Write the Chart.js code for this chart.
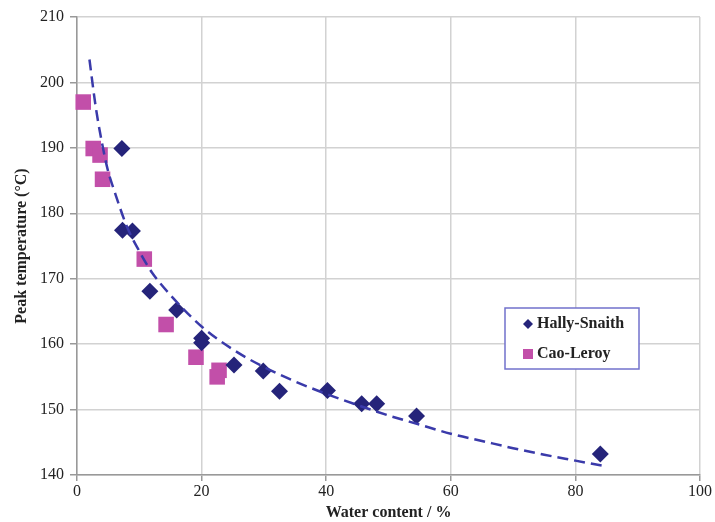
<!DOCTYPE html>
<html>
<head>
<meta charset="utf-8">
<script src="https://cdn.jsdelivr.net/npm/chart.js@4/dist/chart.umd.min.js"></script>
<style>
  html, body { margin: 0; padding: 0; background: #fff; }
  #wrap { width: 715px; height: 522px; }
</style>
</head>
<body>
<div id="wrap"><canvas id="graf"></canvas></div>
<script>
// Hally-Snaith (losangos)
const hallyX = [7.2, 7.3, 8.9, 11.7, 16.0, 20.0, 20.0, 25.2, 29.9, 32.5, 40.2, 45.7, 48.1, 54.5, 84.0];
const hallyY = [189.9, 177.4, 177.3, 168.1, 165.2, 160.9, 160.2, 156.8, 155.9, 152.8, 152.9, 150.9, 150.9, 149.0, 143.2];

// Cao-Leroy (quadrados)
const caoX = [1.0, 2.6, 3.7, 4.1, 10.8, 14.3, 19.1, 22.8, 22.5];
const caoY = [197.0, 189.9, 188.9, 185.2, 173.0, 163.0, 158.0, 156.0, 155.0];

// linha de tendência tracejada
const tendX = [2, 3, 4, 5, 6, 8, 10, 12, 15, 20, 25, 30, 35, 40, 45, 50, 55, 60, 65, 70, 75, 80, 85];
const tendY = [203.5, 196.3, 190.8, 186.4, 183.4, 178.0, 174.2, 171.0, 167.5, 162.7, 159.2, 156.5, 154.3, 152.4, 150.7, 149.1, 147.7, 146.3, 145.2, 144.1, 143.1, 142.2, 141.3];

const xTicks = [0, 20, 40, 60, 80, 100];
const yTicks = [140, 150, 160, 170, 180, 190, 200, 210];

const serie = (xs, ys) => xs.map((x, i) => ({ x: x, y: ys[i] }));

const corHally = '#25247a';
const corCao = '#c24fa9';
const corLinha = '#3a3aaa';
const fonte = "'Liberation Serif', 'Times New Roman', serif";

// legenda desenhada dentro da área do gráfico
const legendaBox = {
    id: 'legendaBox',
    afterDraw(chart) {
        const ctx = chart.ctx;
        ctx.save();
        ctx.fillStyle = '#fff';
        ctx.fillRect(505, 308, 134, 61);
        ctx.strokeStyle = '#7272cc';
        ctx.lineWidth = 1.5;
        ctx.strokeRect(505, 308, 134, 61);

        ctx.fillStyle = corHally;
        ctx.beginPath();
        ctx.moveTo(528, 319);
        ctx.lineTo(533, 324);
        ctx.lineTo(528, 329);
        ctx.lineTo(523, 324);
        ctx.closePath();
        ctx.fill();

        ctx.fillStyle = corCao;
        ctx.fillRect(523, 349, 10, 10);

        ctx.fillStyle = '#222';
        ctx.font = 'bold 16px ' + fonte;
        ctx.textBaseline = 'middle';
        ctx.fillText('Hally-Snaith', 537, 324);
        ctx.fillText('Cao-Leroy', 537, 354);
        ctx.restore();
    }
};

const ctxGraf = document.getElementById('graf').getContext('2d');
new Chart(ctxGraf, {
    type: 'scatter',
    data: {
        datasets: [{
            label: 'Hally-Snaith',
            data: serie(hallyX, hallyY),
            pointStyle: 'rectRot',
            pointRadius: 8.5,
            pointHoverRadius: 8.5,
            backgroundColor: corHally,
            borderColor: corHally,
            borderWidth: 0,
            order: 2
        }, {
            label: 'Cao-Leroy',
            data: serie(caoX, caoY),
            pointStyle: 'rect',
            pointRadius: 11,
            pointHoverRadius: 11,
            backgroundColor: corCao,
            borderColor: corCao,
            borderWidth: 0,
            order: 3
        }, {
            label: 'tendência',
            type: 'line',
            data: serie(tendX, tendY),
            borderColor: corLinha,
            borderWidth: 2.5,
            borderDash: [11, 6],
            pointRadius: 0,
            fill: false,
            cubicInterpolationMode: 'monotone',
            order: 1
        }]
    },
    options: {
        responsive: true,
        maintainAspectRatio: false,
        animation: false,
        clip: false,
        layout: { padding: { top: 17, right: 15, left: 12, bottom: 0 } },
        plugins: {
            legend: { display: false },
            tooltip: { enabled: false }
        },
        scales: {
            x: {
                type: 'linear',
                min: 0,
                max: 100,
                afterBuildTicks: axis => { axis.ticks = xTicks.map(v => ({ value: v })); },
                afterFit: axis => { axis.height = 47; },
                ticks: { color: '#222', font: { family: fonte, size: 16 }, padding: 1 },
                grid: { color: '#d2d2d2', lineWidth: 1.5, tickLength: 6, tickColor: '#999' },
                border: { color: '#999', width: 1.5 },
                title: {
                    display: true,
                    text: 'Water content / %',
                    color: '#222',
                    font: { family: fonte, size: 16, weight: 'bold' },
                    padding: { top: 1, bottom: 0 }
                }
            },
            y: {
                type: 'linear',
                min: 140,
                max: 210,
                afterBuildTicks: axis => { axis.ticks = yTicks.map(v => ({ value: v })); },
                afterFit: axis => { axis.width = 65; },
                ticks: { color: '#222', font: { family: fonte, size: 16 }, padding: 6 },
                grid: { color: '#d2d2d2', lineWidth: 1.5, tickLength: 7, tickColor: '#999' },
                border: { color: '#999', width: 1.5 },
                title: {
                    display: true,
                    text: 'Peak temperature (°C)',
                    color: '#222',
                    font: { family: fonte, size: 16, weight: 'bold' },
                    padding: { top: 0, bottom: 2 }
                }
            }
        }
    },
    plugins: [legendaBox]
});
</script>
</body>
</html>
